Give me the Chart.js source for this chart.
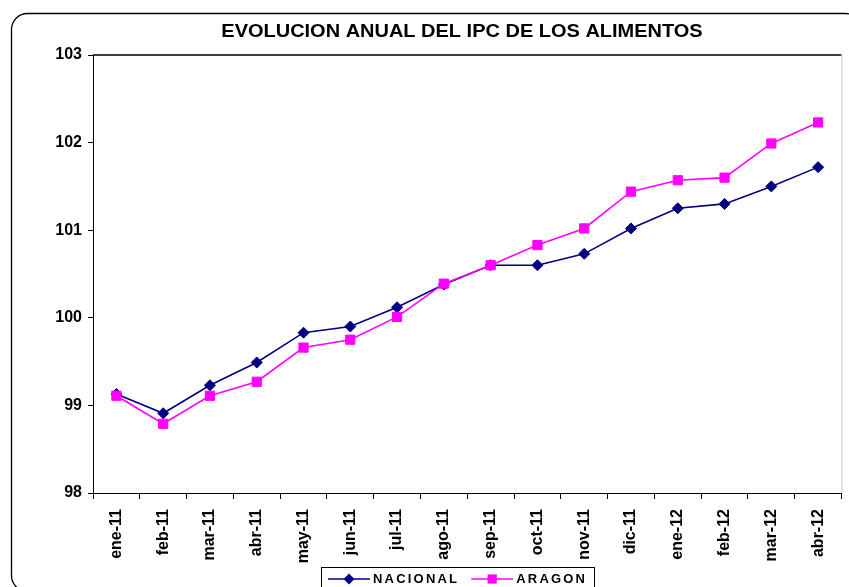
<!DOCTYPE html>
<html><head><meta charset="utf-8">
<script src="https://cdn.jsdelivr.net/npm/chart.js@4.4.1/dist/chart.umd.min.js"></script>
<style>html,body{margin:0;padding:0;background:#fff}canvas{display:block}</style>
</head><body>
<canvas id="c" width="849" height="587"></canvas>
<script>
const chartTitle = 'EVOLUCION ANUAL DEL IPC DE LOS ALIMENTOS';
const categories = ['ene-11','feb-11','mar-11','abr-11','may-11','jun-11','jul-11','ago-11','sep-11','oct-11','nov-11','dic-11','ene-12','feb-12','mar-12','abr-12'];
const nacional = [99.13, 98.91, 99.23, 99.49, 99.83, 99.90, 100.12, 100.38, 100.60, 100.60, 100.73, 101.02, 101.25, 101.30, 101.50, 101.72];
const aragon   = [99.11, 98.79, 99.11, 99.27, 99.66, 99.75, 100.01, 100.39, 100.60, 100.83, 101.02, 101.44, 101.57, 101.60, 101.99, 102.23];
const seriesNames = ['NACIONAL', 'ARAGON'];
const yMin = 98, yMax = 103, yStep = 1;

const FONT = "'Liberation Sans', Arial, sans-serif";
const colors = ['#000080', '#FF00FF'];
const styles = ['rectRot', 'rect'];

function drawMarker(ctx, style, x, y, color) {
  ctx.fillStyle = color;
  ctx.beginPath();
  if (style === 'rectRot') {
    const r = 5.5;
    ctx.moveTo(x, y - r); ctx.lineTo(x + r, y); ctx.lineTo(x, y + r); ctx.lineTo(x - r, y);
    ctx.closePath();
  } else {
    const s = 4.6;
    ctx.rect(x - s, y - s, 2 * s, 2 * s);
  }
  ctx.fill();
}

const decor = {
  id: 'decor',
  beforeDraw(chart) {
    const ctx = chart.ctx;
    ctx.save();
    ctx.fillStyle = '#fff';
    ctx.fillRect(0, 0, chart.width, chart.height);
    ctx.beginPath();
    ctx.roundRect(11.5, 13.5, 850, 578, 16);
    ctx.strokeStyle = '#000'; ctx.lineWidth = 1.3; ctx.stroke();
    ctx.font = 'bold 18px ' + FONT;
    ctx.fillStyle = '#000'; ctx.textAlign = 'center'; ctx.textBaseline = 'middle';
    ctx.translate(462, 32); ctx.scale(1.11, 1);
    ctx.fillText(chartTitle, 0, 0);
    ctx.restore();
  },
  beforeDatasetsDraw(chart) {
    const {ctx, chartArea: a} = chart;
    ctx.save();
    ctx.strokeStyle = '#000'; ctx.lineWidth = 1.5;
    ctx.beginPath(); ctx.moveTo(a.left, a.top); ctx.lineTo(a.right, a.top); ctx.stroke();
    ctx.strokeStyle = '#c8c8c8'; ctx.lineWidth = 1;
    ctx.beginPath(); ctx.moveTo(a.right + 0.5, a.top); ctx.lineTo(a.right + 0.5, a.bottom); ctx.stroke();
    ctx.restore();
  },
  afterDraw(chart) {
    const ctx = chart.ctx;
    ctx.save();
    ctx.fillStyle = '#fff';
    ctx.fillRect(321.5, 567.5, 273, 30);
    ctx.strokeStyle = '#000'; ctx.lineWidth = 1;
    ctx.strokeRect(321.5, 567.5, 273, 30);
    ctx.font = 'bold 13px ' + FONT;
    ctx.letterSpacing = '2.2px';
    ctx.textBaseline = 'middle'; ctx.textAlign = 'left';
    let x = 328;
    const y = 579;
    chart.data.datasets.forEach((ds, i) => {
      ctx.strokeStyle = ds.borderColor; ctx.lineWidth = 1.5;
      ctx.beginPath(); ctx.moveTo(x, y); ctx.lineTo(x + 42, y); ctx.stroke();
      drawMarker(ctx, styles[i], x + 21, y, ds.borderColor);
      ctx.fillStyle = '#000';
      ctx.fillText(ds.label, x + 45, y);
      x += 45 + ctx.measureText(ds.label).width + 12;
    });
    ctx.restore();
  }
};

const tickFont = {family: FONT, size: 16, weight: 'bold'};

new Chart(document.getElementById('c'), {
  type: 'line',
  data: {
    labels: categories,
    datasets: [
      {label: seriesNames[0], data: nacional, borderColor: colors[0], backgroundColor: colors[0],
       borderWidth: 1.6, pointStyle: styles[0], pointRadius: 5.5, pointBorderWidth: 1, tension: 0, order: 1},
      {label: seriesNames[1], data: aragon, borderColor: colors[1], backgroundColor: colors[1],
       borderWidth: 1.6, pointStyle: styles[1], pointRadius: 6.5, pointBorderWidth: 1, tension: 0, order: 0}
    ]
  },
  options: {
    responsive: false, animation: false, devicePixelRatio: 1,
    layout: {padding: {top: 55, right: 2, bottom: 24, left: 0}},
    plugins: {legend: {display: false}, title: {display: false}, tooltip: {enabled: false}},
    scales: {
      x: {
        offset: true,
        grid: {offset: true, drawOnChartArea: false, tickLength: 6, color: '#000', tickColor: '#000'},
        border: {color: '#000', width: 1},
        ticks: {autoSkip: false, maxRotation: 90, minRotation: 90, padding: 10, color: '#000', font: tickFont},
        afterFit(s) { s.height = 70; }
      },
      y: {
        min: yMin, max: yMax,
        ticks: {stepSize: yStep, padding: 6, color: '#000', font: tickFont},
        grid: {drawOnChartArea: false, tickLength: 5, color: '#000', tickColor: '#000'},
        border: {color: '#000', width: 1},
        afterFit(s) { s.width = 93; }
      }
    }
  },
  plugins: [decor]
});
</script>
</body></html>
